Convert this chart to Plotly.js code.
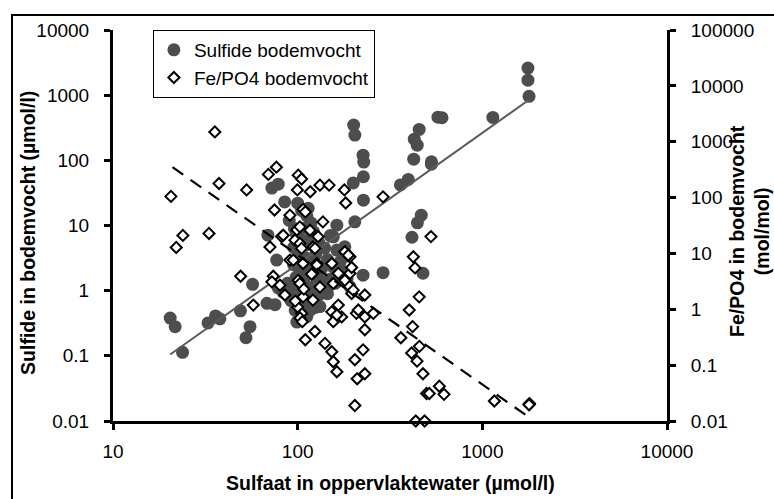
<!DOCTYPE html>
<html><head><meta charset="utf-8">
<script src="https://cdn.plot.ly/plotly-3.0.1.min.js"></script>
<style>html,body{margin:0;padding:0;background:#fff}</style>
</head><body><div id="chart" style="width:774px;height:499px"></div>
<script>
// Sulfide bodemvocht (left axis, µmol/l) vs sulfaat oppervlaktewater (µmol/l)
const sulfideX = [20.4,21.7,23.8,32.7,35.9,37.9,49,55.2,52.5,57,68.2,75.4,78.5,83.2,99,107,116.6,101,132,127,156,169,226,290,77,95,103,185,192,477,69,72.5,78.5,85,204,201,226,228,227,200,227,204,163,180,114,360,397,425,530,530,444,428,455,575,605,1140,1766,1766,1790,467,445,416,
  100,105,112,118,108,122,98,115,130,100,110,125,140,150,156,163,95,105,118,135,98,108,113,122,95,102,110,130,140,92,115,125,97,104,112,88,150,145,170,175,185,119,160,
  90,96,103,110,120,128,100,106,117,124,135,145];
const sulfideY = [0.38,0.28,0.113,0.32,0.41,0.37,0.49,0.28,0.19,1.25,0.64,0.61,1.1,0.95,0.33,0.72,0.5,0.57,0.57,1.28,2.3,1.73,1.73,1.89,2.95,4.6,1.85,3.4,1.15,1.85,7.1,37.5,43,23,244,347,120,94,56,45,24.5,11.4,10.1,4.7,18.4,42,51,104,95,87,171,211,298,460,450,455,2600,1700,960,14.4,11,6.6,
  22,17,14,11,9,8,7.5,6,5.5,4,3.2,3.5,4.5,7,6.7,4.2,2.5,2.1,2.6,2.2,1.6,1.4,1.15,1.0,1.0,0.85,0.95,0.85,1.1,0.7,0.65,0.75,0.5,0.45,0.4,1.3,1.5,0.9,2.8,2.0,1.5,1.85,1.3,
  12,9,6,5,3,2,2.8,1.2,0.8,0.55,1.4,3];

// Fe/PO4 bodemvocht (right axis, mol/mol)
const fepo4X = [35.6,20.6,37.5,52.9,69.4,76.7,23.9,22,33.1,74.9,81.8,100.7,105,99.6,117,132,148,179,182,290,137,99,116.6,129,107,110,90.8,102.8,96.7,83.5,102.8,121,124,90.8,127,180,192,166,192,121,70.8,49.1,73.8,423,432,527,119,80.2,85.3,72.5,100.7,107,105,121,166,153,156,173,188,196,231,208,257,231,124,110,140.6,153,156,163,226,204,231,210,204,57.5,105,127,102.8,196,188,156,200,213,231,163,402,455,419,362,456,414,443,477,499,516,585,620,1162,1795,1800,1790,436,487,103,106,100,97,108,132,180,94.7,107,153];
const fepo4Y = [1497,105,179,137,260,350,21,12.8,22.8,60,20,252,215,137,127,167,167,137,80,103,36.7,26.4,26,20,61.5,55.5,48.4,29.9,17.3,21.2,15.1,13,12.3,7.6,6.6,10.7,8.7,4.4,4.4,4.4,13,3.9,3.9,8.7,5.5,20,4.26,2.7,1.8,3.1,3.3,1.67,0.85,1.46,1.19,0.9,0.6,0.73,2.7,1.92,1.8,0.845,0.845,0.43,0.4,0.285,0.245,0.174,0.115,0.076,0.188,0.125,0.07,0.057,0.0189,1.19,12.3,6.2,2.9,5.6,9.3,2.9,2.2,0.97,0.73,0.79,0.97,1.67,0.49,0.31,0.217,0.165,0.118,0.07,0.031,0.031,0.042,0.030,0.0228,0.0199,0.0205,0.0195,0.01,0.01,0.7,0.6,1.1,1.4,2.3,2.5,3.3,7.6,6.6,6.6];

// Power trend lines (straight on log-log), end points
const sulfideTrendX = [20.4, 1790];
const sulfideTrendY = [0.105, 850];
const fepo4TrendX = [21, 1800];
const fepo4TrendY = [350, 0.0115];

const xTicks = [10, 100, 1000, 10000];
const yTicks = [0.01, 0.1, 1, 10, 100, 1000, 10000];
const y2Ticks = [0.01, 0.1, 1, 10, 100, 1000, 10000, 100000];

const FONT = 'Liberation Sans, Arial, sans-serif';

const traces = [
  {x: sulfideX, y: sulfideY, type: 'scatter', mode: 'markers', name: 'Sulfide bodemvocht',
   marker: {symbol: 'circle', size: 13, color: '#4d4d4d'}, yaxis: 'y', cliponaxis: false},
  {x: sulfideTrendX, y: sulfideTrendY, type: 'scatter', mode: 'lines', showlegend: false,
   line: {color: '#5a5a5a', width: 2}, yaxis: 'y', hoverinfo: 'skip'},
  {x: fepo4X, y: fepo4Y, type: 'scatter', mode: 'markers', name: 'Fe/PO4 bodemvocht',
   marker: {symbol: 'diamond', size: 8.5, color: '#ffffff', line: {color: '#000000', width: 2}},
   yaxis: 'y2', cliponaxis: false},
  {x: fepo4TrendX, y: fepo4TrendY, type: 'scatter', mode: 'lines', showlegend: false,
   line: {color: '#000000', width: 2.2, dash: '13px,9px'}, yaxis: 'y2', hoverinfo: 'skip'}
];

const axisCommon = {
  type: 'log', showgrid: false, zeroline: false, showline: true, linecolor: '#000', linewidth: 3,
  ticks: 'outside', ticklen: 6, tickwidth: 3, tickcolor: '#000',
  tickfont: {family: FONT, size: 19, color: '#000'}, tickmode: 'array'
};

const layout = {
  width: 774, height: 499,
  margin: {l: 113, r: 107, t: 30, b: 78, pad: 0},
  paper_bgcolor: '#fff', plot_bgcolor: '#fff',
  font: {family: FONT, color: '#000'},
  xaxis: Object.assign({}, axisCommon, {range: [1, 4], tickvals: xTicks, ticktext: xTicks.map(String), ticklabelstandoff: 5}),
  yaxis: Object.assign({}, axisCommon, {range: [-2, 4], tickvals: yTicks, ticktext: yTicks.map(String), ticklabelstandoff: 11}),
  yaxis2: Object.assign({}, axisCommon, {range: [-2, 5], tickvals: y2Ticks, ticktext: y2Ticks.map(String),
    overlaying: 'y', side: 'right', ticklabelstandoff: 11}),
  showlegend: true,
  legend: {x: 0.072, y: 1.0, xanchor: 'left', yanchor: 'top', bgcolor: '#fff', bordercolor: '#000', borderwidth: 1,
    font: {family: FONT, size: 19, color: '#000'}, itemwidth: 30, tracegroupgap: 0},
  annotations: [
    {text: '<b>Sulfaat in oppervlaktewater (µmol/l)</b>', xref: 'paper', yref: 'paper', x: 0.5, y: -0.1586,
     xanchor: 'center', yanchor: 'middle', showarrow: false, font: {family: FONT, size: 19.5, color: '#000'}},
    {text: '<b>Sulfide in bodemvocht (µmol/l)</b>', xref: 'paper', yref: 'paper', x: -0.1534, y: 0.481,
     xanchor: 'center', yanchor: 'middle', textangle: -90, showarrow: false, font: {family: FONT, size: 19.5, color: '#000'}},
    {text: '<b>Fe/PO4 in bodemvocht<br>(mol/mol)</b>', xref: 'paper', yref: 'paper', x: 1.1498, y: 0.486,
     xanchor: 'center', yanchor: 'middle', textangle: -90, showarrow: false, font: {family: FONT, size: 19.5, color: '#000'}}
  ],
  shapes: [
    {type: 'rect', xref: 'paper', yref: 'paper', x0: -0.1823, x1: 1.204, y0: -0.2148, y1: 1.0384,
     line: {color: '#000', width: 2}, fillcolor: 'rgba(0,0,0,0)', layer: 'below'}
  ]
};

Plotly.newPlot('chart', traces, layout, {displayModeBar: false, staticPlot: true});
</script>
</body></html>
